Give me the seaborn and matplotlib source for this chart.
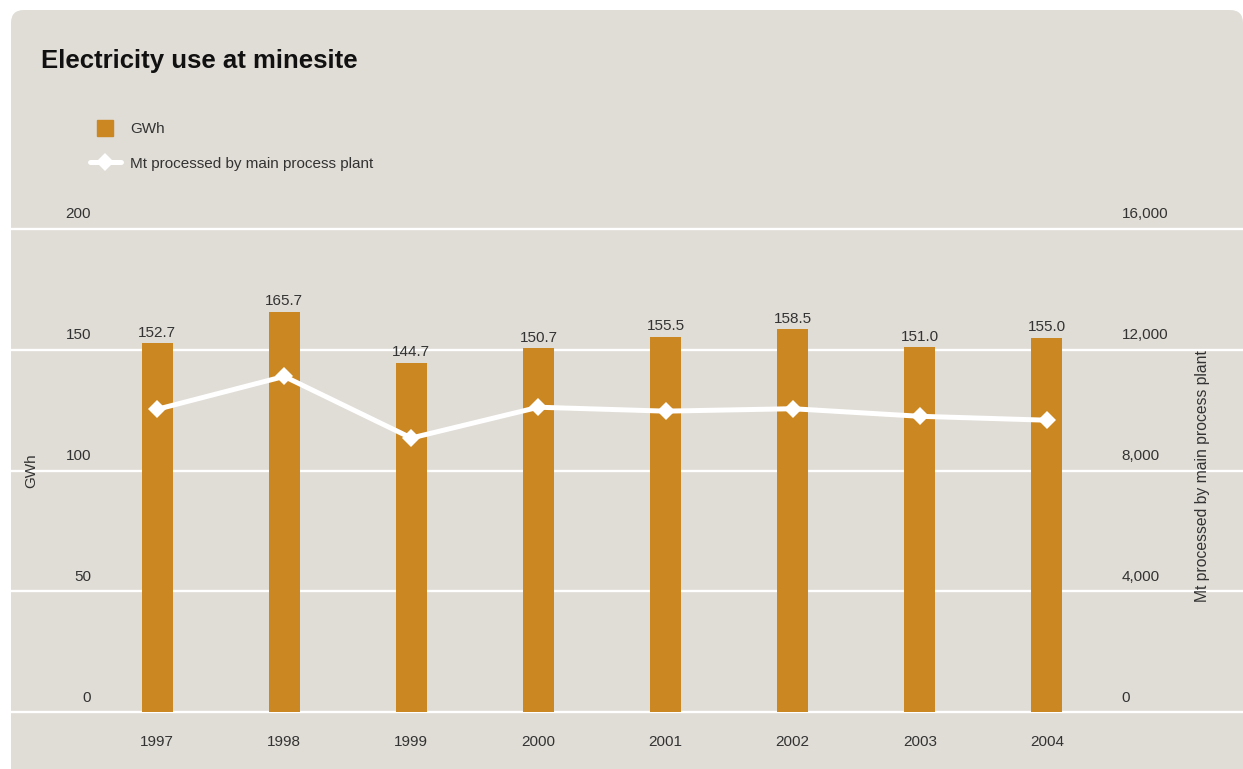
import numpy as np
import pandas as pd
import matplotlib
matplotlib.use("Agg")
import matplotlib.pyplot as plt
from matplotlib.patches import FancyBboxPatch
from matplotlib.lines import Line2D
from matplotlib.transforms import ScaledTranslation, IdentityTransform
import seaborn as sns

# ---- data -------------------------------------------------------------
years = ["1997", "1998", "1999", "2000", "2001", "2002", "2003", "2004"]
gwh = [152.7, 165.7, 144.7, 150.7, 155.5, 158.5, 151.0, 155.0]
mt_processed = [10030, 11120, 9080, 10100, 9970, 10050, 9800, 9670]
gwh_ticks = [0, 50, 100, 150, 200]
mt_ticks = [0, 4000, 8000, 12000, 16000]

# ---- style ------------------------------------------------------------
sns.set_theme(style="white")
plt.rcParams["font.family"] = ["Liberation Sans", "DejaVu Sans"]

BAR = "#cb8722"
PANEL = "#e0dcd6"
TEXT = "#333333"
MARKER_SIZE = 9.0

W, H = 1243, 769
fig = plt.figure(figsize=(W / 100, H / 100), dpi=100)
fig.patch.set_facecolor("white")

# rounded beige panel behind everything (pixel coordinates)
panel = FancyBboxPatch((11, -40), W - 11, H - 10 + 40,
                       boxstyle="round,pad=0,rounding_size=13",
                       transform=IdentityTransform(), facecolor=PANEL,
                       edgecolor="none", zorder=-5)
fig.add_artist(panel)

# plot area spans the full panel width so the grid runs edge to edge
y0, y1 = 712.3, 229.0
ax = fig.add_axes([11 / W, (H - y0) / H, (W - 11) / W, (y0 - y1) / H])
ax.patch.set_alpha(0)

df = pd.DataFrame({"year": years, "gwh": gwh})
sns.barplot(data=df, x="year", y="gwh", color=BAR, saturation=1,
            width=0.244, linewidth=0, ax=ax, zorder=2)
ax.bar_label(ax.containers[0], fmt="%.1f", padding=2.5, fontsize=11,
             color=TEXT)

span = 127.1
ax.set_xlim(-(157 - 11) / span, 7 + (W - 1047) / span)
ax.set_ylim(0, 200)
ax.set_yticks(gwh_ticks)
ax.set_yticklabels([str(v) for v in gwh_ticks])
ax.set_axisbelow(True)
ax.grid(False)
ax.yaxis.grid(True, color="white", linewidth=1.7)
for gl in ax.get_ygridlines():
    gl.set_clip_on(False)
for s in ax.spines.values():
    s.set_visible(False)
ax.tick_params(axis="both", length=0, labelsize=11, labelcolor=TEXT)
ax.tick_params(axis="y", pad=-57.6)
ax.tick_params(axis="x", pad=16)
ax.set_xlabel("")
ax.set_ylabel("GWh", fontsize=11, color=TEXT)
ax.yaxis.set_label_coords((31 - 11) / (W - 11), 0.5)
ax.yaxis.label.set_va("center")

# secondary axis: tonnage line
ax2 = ax.twinx()
ax2.patch.set_alpha(0)
sns.lineplot(x=np.arange(len(years)), y=mt_processed, ax=ax2, color="white",
             linewidth=3.6, marker="D", markersize=MARKER_SIZE,
             markeredgewidth=0)
ax2.set_ylim(0, 16000)
ax2.set_yticks(mt_ticks)
ax2.set_yticklabels([f"{v:,}" for v in mt_ticks])
ax2.grid(False)
for s in ax2.spines.values():
    s.set_visible(False)
ax2.tick_params(axis="y", length=0, labelsize=11, labelcolor=TEXT, pad=-87.3)
ax2.set_ylabel("Mt processed by main process plant", fontsize=11.3,
               color=TEXT)
ax2.yaxis.set_label_coords((1202 - 11) / (W - 11), (y0 - 476) / (y0 - y1))
ax2.yaxis.label.set_va("center")

# lift y tick labels above their gridlines
lift = ScaledTranslation(0, 0.16, fig.dpi_scale_trans)
for lbl in ax.get_yticklabels() + ax2.get_yticklabels():
    lbl.set_transform(lbl.get_transform() + lift)

# legend
handles = [
    Line2D([], [], marker="s", markersize=11.5, color=BAR, linestyle="none"),
    Line2D([], [], color="white", linewidth=3.6, marker="D",
           markersize=MARKER_SIZE, markeredgewidth=0),
]
fig.legend(handles, ["GWh", "Mt processed by main process plant"],
           loc="upper left", bbox_to_anchor=(90 / W, 1 - 122 / H),
           frameon=False, fontsize=11, handlelength=2.0, handletextpad=0.65,
           labelspacing=1.35, borderpad=0, borderaxespad=0, labelcolor=TEXT)

fig.text(41 / W, 1 - 68 / H, "Electricity use at minesite", fontsize=18.5,
         fontweight="bold", va="baseline", color="#111111")

fig.savefig("out.png", dpi=100, facecolor="white")
